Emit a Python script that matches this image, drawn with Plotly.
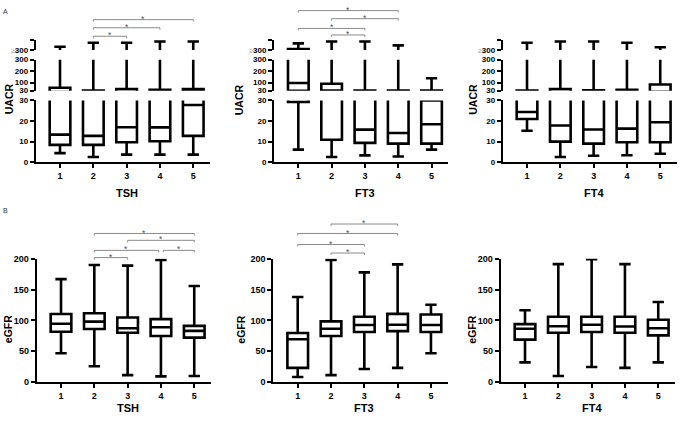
import plotly.graph_objects as go

W, H = 685, 424
groups = [1, 2, 3, 4, 5]

# ---------------- Panel A: UACR (broken axis: 0-30, 30-300, >=300) ----------------
tsh_uacr_min = [4.4, 2.5, 3.7, 3.7, 3.7]
tsh_uacr_q1 = [8.4, 8.4, 9.7, 10.2, 12.8]
tsh_uacr_med = [13.4, 12.8, 17.0, 16.9, 27.8]
tsh_uacr_q3 = [55, 31, 44, 38, 44]
tsh_uacr_max = [524, 796, 796, 891, 891]

ft3_uacr_min = [6.1, 2.5, 3.3, 2.8, 6.1]
ft3_uacr_q1 = [29.3, 10.9, 9.4, 9.0, 9.0]
ft3_uacr_med = [96, 31, 15.8, 14.2, 18.4]
ft3_uacr_q3 = [360, 90, 31, 31, 30]
ft3_uacr_max = [755, 891, 891, 619, 138]

ft4_uacr_min = [15.3, 2.5, 3.1, 3.4, 4.1]
ft4_uacr_q1 = [21.0, 10.0, 9.0, 9.7, 9.7]
ft4_uacr_med = [24.4, 17.8, 15.9, 16.3, 19.4]
ft4_uacr_q3 = [31, 44, 33, 38, 84]
ft4_uacr_max = [796, 891, 891, 796, 483]

# ---------------- Panel B: eGFR ----------------
tsh_egfr_min = [46.5, 25.4, 11, 9, 9.5]
tsh_egfr_q1 = [81.5, 86, 80, 74.6, 72]
tsh_egfr_med = [94.5, 98, 87.3, 88.9, 83]
tsh_egfr_q3 = [110.5, 111.6, 104.8, 102, 91]
tsh_egfr_max = [167, 190, 189, 198.4, 156]

ft3_egfr_min = [8, 11, 21, 22.8, 46.6]
ft3_egfr_q1 = [22.8, 74.6, 81, 82.5, 81]
ft3_egfr_med = [69.3, 86.3, 92.6, 93, 92.6]
ft3_egfr_q3 = [79.4, 98.4, 105.8, 110.6, 109.5]
ft3_egfr_max = [138, 198.4, 178, 191, 125.4]

ft4_egfr_min = [31.7, 9.5, 24.3, 22.8, 31.7]
ft4_egfr_q1 = [68.8, 80, 81, 80, 75.7]
ft4_egfr_med = [86.3, 90.5, 93, 90, 87.3]
ft4_egfr_q3 = [94, 105.8, 105.8, 105.8, 101]
ft4_egfr_max = [116.4, 191.5, 199.5, 191.5, 130]

group_names = ["TSH", "FT3", "FT4"]

# significance brackets: (group i, group j, vertical pixel level)
brackets_A = {0: [(2, 3, 32), (2, 4, 23.3), (2, 5, 15)],
              1: [(1, 4, 5.7), (2, 4, 14), (1, 3, 24), (2, 3, 30.7)],
              2: []}
brackets_B = {0: [(2, 5, 234), (3, 5, 241), (2, 4, 251.3), (4, 5, 251.3), (2, 3, 258.7)],
              1: [(2, 4, 224.3), (1, 4, 234), (1, 3, 245.3), (2, 3, 254)],
              2: []}

uacr = [
    (tsh_uacr_min, tsh_uacr_q1, tsh_uacr_med, tsh_uacr_q3, tsh_uacr_max),
    (ft3_uacr_min, ft3_uacr_q1, ft3_uacr_med, ft3_uacr_q3, ft3_uacr_max),
    (ft4_uacr_min, ft4_uacr_q1, ft4_uacr_med, ft4_uacr_q3, ft4_uacr_max),
]
egfr = [
    (tsh_egfr_min, tsh_egfr_q1, tsh_egfr_med, tsh_egfr_q3, tsh_egfr_max),
    (ft3_egfr_min, ft3_egfr_q1, ft3_egfr_med, ft3_egfr_q3, ft3_egfr_max),
    (ft4_egfr_min, ft4_egfr_q1, ft4_egfr_med, ft4_egfr_q3, ft4_egfr_max),
]

FONT = "Liberation Sans, Arial, sans-serif"
XR = [0.27, 5.5]
XW = 174.2
colA_x0 = [35.7, 274.0, 502.7]
colB_x0 = [36.7, 273.4, 500.7]


def px_x(v):
    return v / W


def px_y(v):
    return 1 - v / H


def ref(kind, i):
    return kind if i == 1 else f"{kind}{i}"


fig = go.Figure()
layout = {}
annotations = []
shapes = []

axis_common = dict(showgrid=False, zeroline=False, showline=True, linecolor="black",
                   linewidth=2, ticks="outside", ticklen=4, tickwidth=2, tickcolor="black",
                   tickfont=dict(family=FONT, size=9, color="black", weight="bold"))
small_tick_font = dict(family=FONT, size=8, color="black", weight="bold")


def text_ann(text, xref, x, y, size, color="black", angle=0):
    annotations.append(dict(text=text, xref=xref, yref="paper", x=x, y=y, textangle=angle,
                            xanchor="center", yanchor="middle", showarrow=False,
                            font=dict(family=FONT, size=size, color=color)))


def add_box(stats, xa, ya):
    mn, q1, md, q3, mx = stats
    fig.add_trace(go.Box(x=groups, q1=q1, median=md, q3=q3, lowerfence=mn, upperfence=mx,
                         xaxis=xa, yaxis=ya, width=0.62, whiskerwidth=0.55,
                         fillcolor="white", line=dict(color="black", width=2.6),
                         boxpoints=False, showlegend=False, hoverinfo="skip"))


def add_brackets(blist, xa):
    for (i, j, ly) in blist:
        a, b = i, j
        # leave a small gap where two brackets meet on the same level
        for (i2, j2, ly2) in blist:
            if ly2 == ly and i2 == j:
                b = j - 0.07
            if ly2 == ly and j2 == i:
                a = i + 0.07
        shapes.append(dict(type="line", xref=xa, yref="paper", x0=a, x1=b,
                           y0=px_y(ly), y1=px_y(ly), line=dict(color="#8a8a8a", width=1)))
        for xx in (a, b):
            shapes.append(dict(type="line", xref=xa, yref="paper", x0=xx, x1=xx,
                               y0=px_y(ly), y1=px_y(ly + 2), line=dict(color="#8a8a8a", width=1)))
        text_ann("*", xa, (a + b) / 2, px_y(ly - 1), 8.5, "#555")


# ---- Panel A (UACR) ----
segs = [  # (top px, bottom px, range, tickvals, ticktext)
    (97.7, 161.0, [0, 30], [0, 10, 20, 30], ["0", "10", "20", "30"]),
    (56.0, 87.7, [30, 300], [30, 100, 200, 300], ["30", "100", "200", "300"]),
    (35.7, 46.0, [300, 1000], [300, 1000],
     ["<span style='font-weight:normal;color:#9a9a9a;font-size:7px'>≥</span>300", ""]),
]
title_x_A = [9, 239, 473.5]
for p in range(3):
    xi = p + 1
    xa = ref("x", xi)
    x0 = colA_x0[p]
    for s, (top, bot, rng, tv, tt) in enumerate(segs):
        yi = 3 * p + 1 + s
        ya = ref("y", yi)
        layout[f"yaxis{yi}"] = dict(axis_common, domain=[px_y(bot), px_y(top)], range=rng,
                                     tickvals=tv, ticktext=tt, anchor=xa,
                                     tickfont=small_tick_font)
        add_box(uacr[p], xa, ya)
    layout[f"xaxis{xi}"] = dict(axis_common, domain=[px_x(x0), px_x(x0 + XW)], range=XR,
                                tickvals=groups, ticktext=[str(g) for g in groups],
                                anchor=ref("y", 3 * p + 1))
    text_ann("<b>UACR</b>", "paper", px_x(title_x_A[p]), px_y(96.5), 10.5, angle=-90)
    text_ann(f"<b>{group_names[p]}</b>", xa, 3, px_y(193), 11)
    add_brackets(brackets_A[p], xa)

# ---- Panel B (eGFR) ----
title_x_B = [7.5, 241, 472]
for p in range(3):
    xi = 4 + p
    yi = 10 + p
    xa, ya = ref("x", xi), ref("y", yi)
    x0 = colB_x0[p]
    layout[f"yaxis{yi}"] = dict(axis_common, domain=[px_y(386), px_y(260)], range=[0, 200],
                                tickvals=[0, 50, 100, 150, 200], anchor=xa)
    layout[f"xaxis{xi}"] = dict(axis_common, domain=[px_x(x0), px_x(x0 + XW)], range=XR,
                                tickvals=groups, ticktext=[str(g) for g in groups], anchor=ya)
    add_box(egfr[p], xa, ya)
    text_ann("<b>eGFR</b>", "paper", px_x(title_x_B[p]), px_y(332.5), 10.5, angle=-90)
    text_ann(f"<b>{group_names[p]}</b>", xa, 3, px_y(412.5), 11)
    add_brackets(brackets_B[p], xa)

# panel letters
text_ann("A", "paper", px_x(5), px_y(7), 7, "#333")
text_ann("B", "paper", px_x(5), px_y(210), 7, "#333")

fig.update_layout(**layout)
fig.update_layout(width=W, height=H, margin=dict(l=0, r=0, t=0, b=0),
                  paper_bgcolor="white", plot_bgcolor="white",
                  annotations=annotations, shapes=shapes, showlegend=False,
                  font=dict(family=FONT))
fig.write_html("out.html", config={"displayModeBar": False, "staticPlot": True},
               post_script="document.body.style.margin='0';document.body.style.overflow='hidden';")
